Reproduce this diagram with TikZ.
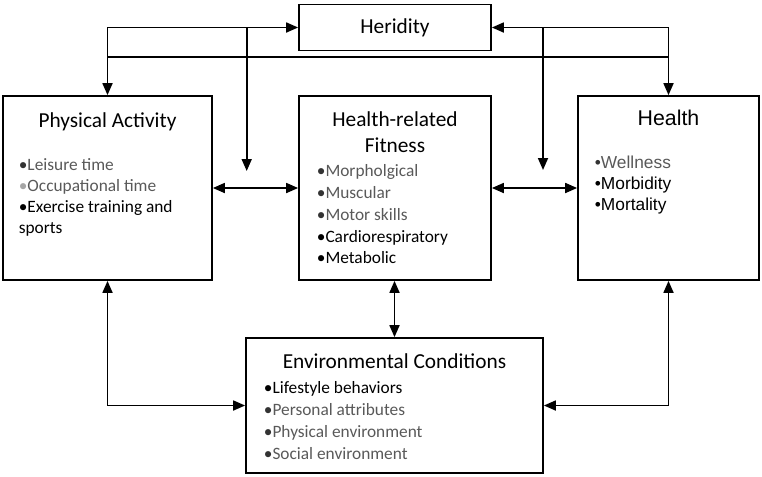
\documentclass[tikz,border=0pt]{standalone}
\usepackage{fontspec}
\setmainfont{Carlito}
\newfontfamily\arialfont{Liberation Sans}
\usetikzlibrary{arrows.meta}

\definecolor{txtgray}{HTML}{595959}
\definecolor{dotdark}{HTML}{333333}
\definecolor{dotlight}{HTML}{A6A6A6}

\newcommand{\grayitem}[1]{{\color{dotdark}•}{\color{txtgray}#1}}
\newcommand{\lightitem}[1]{{\color{dotlight}•}{\color{txtgray}#1}}
\newcommand{\blackitem}[1]{•#1}

\tikzset{
    >={Triangle[length=9pt,width=7.5pt]},
    box/.style={draw, line width=1.3pt, inner sep=0pt},
    title/.style={inner sep=0pt, font=\fontsize{16}{19.5}\selectfont},
    list/.style={anchor=north west, align=left, inner sep=0pt},
}

\begin{document}
\begin{tikzpicture}[x=0.75pt,y=-0.75pt,line width=1.3pt]
    \useasboundingbox (0,0) rectangle (762,476);

    % boxes
    \node[box, minimum width=144pt, minimum height=34.5pt, font=\fontsize{16}{19.5}\selectfont] (her) at (395,27.5) {Heridity};
    \node[box, minimum width=156.75pt, minimum height=138pt] (pa) at (107.5,188) {};
    \node[box, minimum width=144pt, minimum height=138pt] (hrf) at (395,188) {};
    \node[box, minimum width=135.75pt, minimum height=138pt] (hl) at (668.5,188) {};
    \node[box, minimum width=222.75pt, minimum height=101.25pt] (env) at (394.5,405.5) {};

    % Physical Activity
    \node[title, anchor=base] (paT) at (107.5,127) {Physical Activity};
    \node[list, font=\fontsize{13}{15.75}\selectfont] (paL) at (18,158)
        {\grayitem{Leisure time}\\ \lightitem{Occupational time}\\ \blackitem{Exercise training and}\\ sports};

    % Health-related Fitness
    \node[title, anchor=north, align=center] (hrfT) at (395,111) {Health-related\\ Fitness};
    \node[list, font=\fontsize{13}{16.3}\selectfont] (hrfL) at (316,164)
        {\grayitem{Morpholgical}\\ \grayitem{Muscular}\\ \grayitem{Motor skills}\\ \blackitem{Cardiorespiratory}\\ \blackitem{Metabolic}};

    % Health
    \node[title, anchor=base, font=\arialfont\fontsize{16}{19.5}\selectfont] (hlT) at (668.5,125.3) {Health};
    \node[list, font=\arialfont\fontsize{13}{15.6}\selectfont] (hlL) at (594,155.5)
        {\grayitem{Wellness}\\ \blackitem{Morbidity}\\ \blackitem{Mortality}};

    % Environmental Conditions
    \node[title, anchor=base] (envT) at (394.5,368.5) {Environmental Conditions};
    \node[list, font=\fontsize{13}{16.3}\selectfont] (envL) at (263,381)
        {\blackitem{Lifestyle behaviors}\\ \grayitem{Personal attributes}\\ \grayitem{Physical environment}\\ \grayitem{Social environment}};

    \coordinate (lb) at (246.7,171);
    \coordinate (rb) at (543,170);
    \coordinate (mid) at (0,57);

    % Heridity links
    \draw[<->] (pa.north) |- (her.west);
    \draw[<->] (hl.north) |- (her.east);
    \draw[->] (lb |- her.west) -- (lb);
    \draw[->] (rb |- her.east) -- (rb);
    \draw (pa.north |- mid) -- (hl.north |- mid);

    % middle row
    \draw[<->] (pa.east) -- (hrf.west);
    \draw[<->] (hrf.east) -- (hl.west);

    % Environmental links
    \draw[<->] (env.north |- hrf.south) -- (env.north);
    \draw[<->] (pa.south) |- (env.west);
    \draw[<->] (hl.south) |- (env.east);
\end{tikzpicture}
\end{document}
